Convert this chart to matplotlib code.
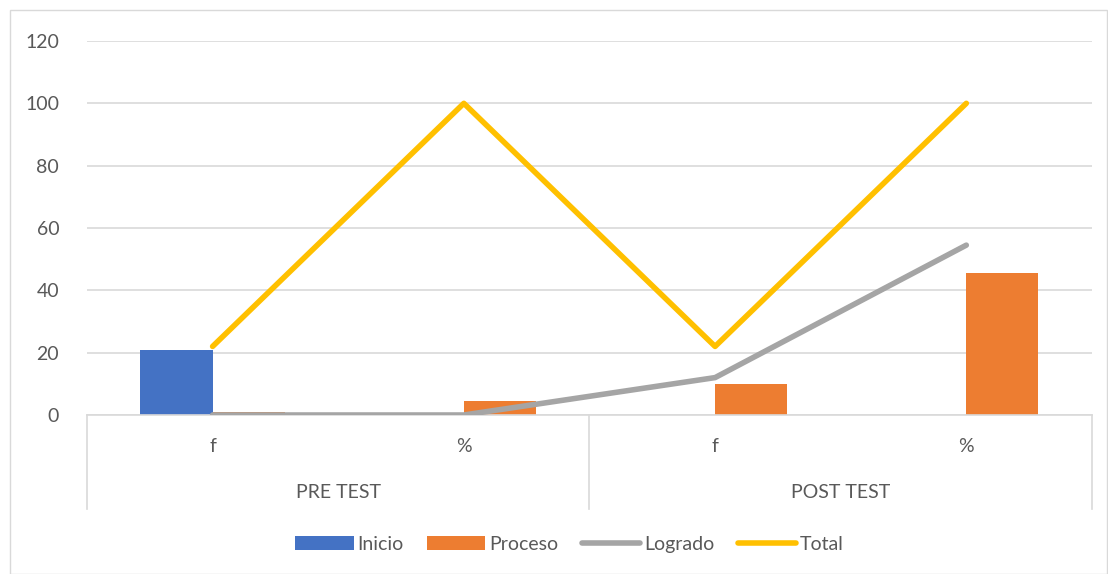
import numpy as np
import matplotlib.pyplot as plt
from matplotlib.patches import Rectangle

# datos
grupos = ['PRE TEST', 'POST TEST']
sub_labels = ['f', '%', 'f', '%']
inicio = [21, 0, 0, 0]
proceso = [1, 4.5, 10, 45.5]
logrado = [0, 0, 12, 54.5]
total = [22, 100, 22, 100]

plt.rcParams['font.family'] = ['Lato', 'DejaVu Sans']

fig = plt.figure(figsize=(11.08, 5.74), dpi=100)
ax = fig.add_axes([0.0785, 0.277, 0.907, 0.6516])

x = np.arange(len(sub_labels))
w = 0.287
b1 = ax.bar(x - w / 2, inicio, w, color='#4472C4', label='Inicio', zorder=2)
b2 = ax.bar(x + w / 2, proceso, w, color='#ED7D31', label='Proceso', zorder=2)
l1, = ax.plot(x, logrado, color='#A5A5A5', lw=4, label='Logrado', zorder=3, solid_capstyle='round')
l2, = ax.plot(x, total, color='#FFC000', lw=4, label='Total', zorder=3, solid_capstyle='round')

ax.set_xlim(-0.5, 3.5)
ax.set_ylim(0, 120)
ax.set_yticks(range(0, 121, 20))
ax.yaxis.grid(True, color='#D9D9D9', lw=1.2, zorder=0)
ax.set_axisbelow(True)
for s in ['left', 'right', 'top']:
    ax.spines[s].set_visible(False)
ax.spines['bottom'].set_color('#D9D9D9')
ax.spines['bottom'].set_linewidth(1.2)
ax.tick_params(axis='y', length=0, labelsize=14, colors='#595959', pad=20)
ax.set_xticks([])

# eje de categorias en dos niveles
for xv in [-0.5, 1.5, 3.5]:
    ax.plot([xv, xv], [0, -30], color='#D9D9D9', lw=1.2, clip_on=False)
for i, lab in enumerate(sub_labels):
    ax.text(i, -10, lab, ha='center', va='center', fontsize=14, color='#595959')
for i, g in enumerate(grupos):
    ax.text(2 * i + 0.5, -25, g, ha='center', va='center', fontsize=14, color='#595959')

fig.legend([b1, b2, l1, l2], ['Inicio', 'Proceso', 'Logrado', 'Total'],
           loc='center', bbox_to_anchor=(0.514, 0.052), ncol=4, frameon=False,
           fontsize=14, labelcolor='#595959', handlelength=3.0, handletextpad=0.2,
           columnspacing=1.2)

fig.patches.append(Rectangle((0.009, 0.0), 0.99, 0.982, transform=fig.transFigure,
                             fill=False, edgecolor='#D9D9D9', lw=1))

fig.savefig('out.png', dpi=100)
